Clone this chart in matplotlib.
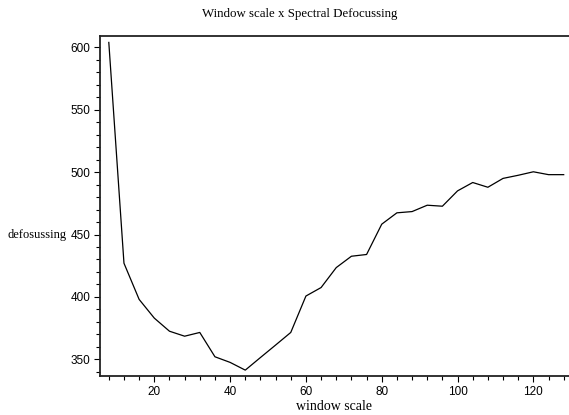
import numpy as np
import matplotlib
matplotlib.use('Agg')
import matplotlib.pyplot as plt
from matplotlib.ticker import MultipleLocator

# window scale vs spectral defocussing
window_scale = [8, 12, 16, 20, 24, 28, 32, 36, 40, 44, 48, 52, 56, 60, 64, 68,
                72, 76, 80, 84, 88, 92, 96, 100, 104, 108, 112, 116, 120, 124, 128]
defocussing = [604, 427, 398, 383, 372.5, 368.5, 371.5, 352, 347.5, 341.3, 351.4,
               361.4, 371.5, 400.7, 407.5, 423.5, 432.6, 434, 458.3, 467.4, 468.4,
               473.5, 472.7, 485, 491.7, 487.9, 495, 497.5, 500.3, 498, 498]

serif = 'Liberation Serif'
sans = 'Liberation Sans'

W, H = 569, 415
fig = plt.figure(figsize=(W / 100, H / 100), dpi=100)
ax = fig.add_axes([0.1757, 0.094, 0.8243, 0.820])

ax.plot(window_scale, defocussing, color='black', linewidth=0.9)

ax.set_xlim(5.67, 129.4)
ax.set_ylim(336.6, 609.4)

ax.xaxis.set_major_locator(MultipleLocator(20))
ax.xaxis.set_minor_locator(MultipleLocator(4))
ax.yaxis.set_major_locator(MultipleLocator(50))
ax.yaxis.set_minor_locator(MultipleLocator(10))
ax.tick_params(which='major', length=4, width=0.8, direction='out', labelsize=8.5, pad=3)
ax.tick_params(which='minor', length=3, width=0.8, direction='out')
for lab in ax.get_xticklabels() + ax.get_yticklabels():
    lab.set_fontfamily(sans)

for side in ['left', 'bottom', 'top']:
    ax.spines[side].set_linewidth(1.3)
    ax.spines[side].set_color('#222222')
ax.spines['right'].set_visible(False)

fig.text(300 / W, 1 - 14 / H, 'Window scale x Spectral Defocussing',
         fontfamily=serif, fontsize=9.3, ha='center', va='center')
ax.set_xlabel('window scale', fontfamily=serif, fontsize=10, labelpad=2)
fig.text(8 / W, 1 - 235 / H, 'defosussing', fontfamily=serif, fontsize=9,
         ha='left', va='center')

fig.savefig('out.png', dpi=100)
